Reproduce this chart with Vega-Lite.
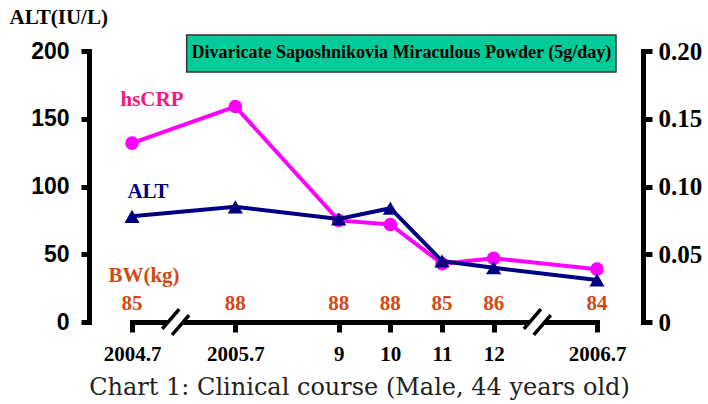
{
  "$schema": "https://vega.github.io/schema/vega-lite/v6.json",
  "width": 554,
  "height": 271,
  "autosize": "none",
  "padding": {"left": 89, "top": 51, "right": 65, "bottom": 82},
  "background": "white",
  "config": {
    "view": {"stroke": null},
    "axis": {"grid": false, "domainColor": "black", "tickColor": "black", "labelColor": "black", "titleColor": "black"}
  },
  "data": {
    "values": [
      {"time": "2004.7", "ALT": 78, "hsCRP": 0.132, "BW": 85},
      {"time": "2005.7", "ALT": 85, "hsCRP": 0.159, "BW": 88},
      {"time": "9", "ALT": 76, "hsCRP": 0.075, "BW": 88},
      {"time": "10", "ALT": 84, "hsCRP": 0.072, "BW": 88},
      {"time": "11", "ALT": 45, "hsCRP": 0.043, "BW": 85},
      {"time": "12", "ALT": 40, "hsCRP": 0.047, "BW": 86},
      {"time": "2006.7", "ALT": 31, "hsCRP": 0.039, "BW": 84}
    ]
  },
  "layer": [
    {
      "encoding": {
        "x": {
          "field": "time", "type": "nominal",
          "scale": {"type": "point", "domain": ["2004.7", "g1", "2005.7", "g2", "9", "10", "11", "12", "g3", "2006.7"], "range": [43, 508], "padding": 0},
          "axis": {
            "values": ["2004.7", "2005.7", "9", "10", "11", "12", "2006.7"],
            "labelAngle": 0,
            "labelFont": "Liberation Serif", "labelFontWeight": "bold", "labelFontSize": 21,
            "labelPadding": 11,
            "domainWidth": 5, "domainCap": "square", "tickWidth": 5, "tickSize": 10,
            "title": "Chart 1: Clinical course (Male, 44 years old)",
            "titleFont": "DejaVu Serif", "titleFontWeight": "normal", "titleFontSize": 24, "titleColor": "#222222",
            "titleX": 270, "titleY": 72, "titleBaseline": "alphabetic", "titleAlign": "center"
          }
        },
        "y": {
          "field": "hsCRP", "type": "quantitative",
          "scale": {"domain": [0, 0.2], "nice": false},
          "axis": {
            "orient": "right",
            "values": [0, 0.05, 0.1, 0.15, 0.2],
            "labelExpr": "datum.value == 0 ? '0' : format(datum.value, '.2f')",
            "labelFont": "Liberation Serif", "labelFontWeight": "bold", "labelFontSize": 25,
            "labelPadding": 6, "labelBaseline": "middle",
            "domainWidth": 5, "domainCap": "square", "tickWidth": 5, "tickSize": 9,
            "title": null
          }
        }
      },
      "layer": [
        {"mark": {"type": "line", "color": "#FF00FF", "strokeWidth": 4}},
        {"mark": {"type": "point", "shape": "circle", "filled": true, "opacity": 1, "color": "#FF00FF", "size": 185}}
      ]
    },
    {
      "layer": [
        {
          "mark": {"type": "line", "color": "#000080", "strokeWidth": 4},
          "encoding": {
            "x": {"field": "time", "type": "nominal"},
            "y": {
              "field": "ALT", "type": "quantitative",
              "scale": {"domain": [0, 200], "nice": false},
              "axis": {
                "orient": "left",
                "values": [0, 50, 100, 150, 200],
                "labelFont": "Liberation Sans", "labelFontWeight": "bold", "labelFontSize": 23,
                "labelPadding": 12, "labelBaseline": "middle",
                "domainWidth": 5, "domainCap": "square", "tickWidth": 5, "tickSize": 8,
                "title": "ALT(IU/L)", "titleAngle": 0, "titleX": -80, "titleY": -28,
                "titleAlign": "left", "titleBaseline": "alphabetic",
                "titleFont": "Liberation Serif", "titleFontWeight": "bold", "titleFontSize": 21
              }
            }
          }
        },
        {
          "mark": {"type": "rect", "fill": "#00CC99", "stroke": "#333333", "strokeWidth": 1.5, "xOffset": 3, "x2Offset": 19},
          "data": {"values": [{"box": "regimen"}]},
          "encoding": {
            "x": {"datum": "g1"},
            "x2": {"datum": "2006.7"},
            "y": {"datum": 211.8},
            "y2": {"datum": 184.5}
          }
        },
        {
          "mark": {"type": "text", "font": "Liberation Serif", "fontWeight": "bold", "fontSize": 18, "color": "black", "align": "center", "baseline": "middle", "dx": 11},
          "data": {"values": [{"label": "Divaricate Saposhnikovia Miraculous Powder (5g/day)"}]},
          "encoding": {
            "x": {"datum": "10"},
            "y": {"datum": 198.2},
            "text": {"field": "label"}
          }
        },
        {
          "mark": {"type": "point", "shape": "M -0.79 0.41 L 0.21 -0.76 L 0.79 -0.41 L -0.21 0.76 Z", "filled": true, "opacity": 1, "fill": "white", "strokeWidth": 0, "size": 1156, "xOffset": -8},
          "data": {"values": [{"brk": "g1"}, {"brk": "g3"}]},
          "encoding": {
            "x": {"field": "brk", "type": "nominal"},
            "y": {"datum": 0}
          }
        },
        {
          "mark": {"type": "point", "shape": "M -0.79 0.41 L 0.21 -0.76 M -0.21 0.76 L 0.79 -0.41", "filled": false, "opacity": 1, "stroke": "black", "strokeWidth": 3.5, "size": 1156, "xOffset": -8},
          "data": {"values": [{"brk": "g1"}, {"brk": "g3"}]},
          "encoding": {
            "x": {"field": "brk", "type": "nominal"},
            "y": {"datum": 0}
          }
        },
        {
          "mark": {"type": "point", "shape": "triangle-up", "filled": true, "opacity": 1, "color": "#000080", "size": 230},
          "encoding": {
            "x": {"field": "time", "type": "nominal"},
            "y": {"field": "ALT", "type": "quantitative"}
          }
        },
        {
          "mark": {"type": "text", "font": "Liberation Serif", "fontWeight": "bold", "fontSize": 21, "color": "#D04A16", "align": "center", "baseline": "middle"},
          "encoding": {
            "x": {"field": "time", "type": "nominal"},
            "y": {"datum": 13.5},
            "text": {"field": "BW"}
          }
        },
        {
          "mark": {"type": "text", "font": "Liberation Serif", "fontWeight": "bold", "fontSize": 21, "align": "center", "baseline": "middle"},
          "data": {"values": [
            {"label": "hsCRP", "where": "2004.7", "level": 164, "tone": "hs"},
            {"label": "ALT", "where": "2004.7", "level": 96.3, "tone": "alt"},
            {"label": "BW(kg)", "where": "2004.7", "level": 34, "tone": "bw"}
          ]},
          "encoding": {
            "x": {"field": "where", "type": "nominal"},
            "y": {"field": "level", "type": "quantitative"},
            "text": {"field": "label"},
            "xOffset": {"field": "tone", "type": "nominal", "scale": {"domain": ["bw", "alt", "hs"], "range": [10, 22, 28]}, "legend": null},
            "color": {"field": "tone", "type": "nominal", "scale": {"domain": ["hs", "alt", "bw"], "range": ["#F5197C", "#000080", "#D04A16"]}, "legend": null}
          }
        }
      ]
    }
  ],
  "resolve": {"scale": {"y": "independent"}}
}
